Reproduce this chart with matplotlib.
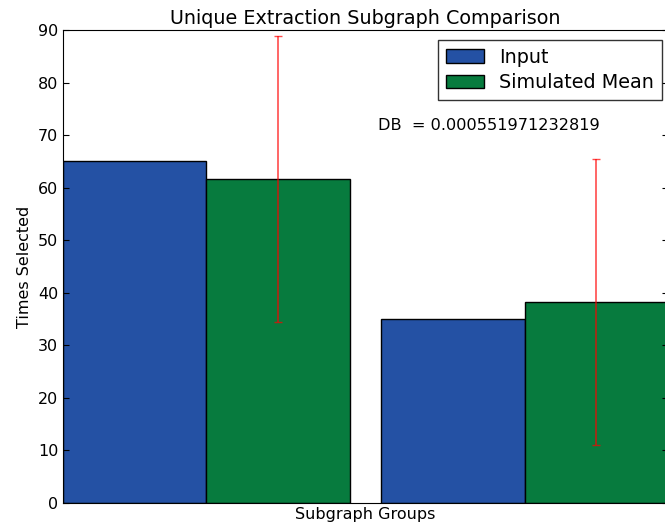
import numpy as np
import matplotlib
matplotlib.use("Agg")
import matplotlib.pyplot as plt

# subgraph selection counts
groups = ["Group 1", "Group 2"]
input_counts = [65, 35]
sim_mean = [61.7, 38.3]
sim_std = [27.2, 27.2]
db_value = "0.000551971232819"

width = 0.45
ind = np.arange(len(groups))

fig = plt.figure(figsize=(6.65, 5.28), dpi=100)
ax = fig.add_axes([63/665, 25/528, 605/665, 473/528])

b1 = ax.bar(ind, input_counts, width, align="edge", color="#2451a4",
            edgecolor="black", linewidth=1)
b2 = ax.bar(ind + width, sim_mean, width, align="edge", color="#077b3e",
            edgecolor="black", linewidth=1)
ax.errorbar(ind + width * 1.5, sim_mean, yerr=sim_std, fmt="none",
            ecolor="red", alpha=0.7, capsize=3, elinewidth=1.2)

ax.set_xlim(0, 1.9)
ax.set_ylim(0, 90)
ax.set_xticks([])
ax.set_yticks(np.arange(0, 91, 10))
ax.tick_params(axis="y", direction="in", right=True, length=4, labelsize=11.5)
ax.set_xlabel("Subgraph Groups", fontsize=11.5, labelpad=3)
ax.set_ylabel("Times Selected", fontsize=11.5)
ax.set_title("Unique Extraction Subgraph Comparison", fontsize=13.8, pad=4)

ax.text(0.99, 71.0, "DB  = " + db_value, fontsize=11.6)

leg = ax.legend((b1[0], b2[0]), ("Input", "Simulated Mean"), loc="upper right",
                bbox_to_anchor=(0.99, 0.979), borderaxespad=0,
                fontsize=13.8, fancybox=False, edgecolor="black",
                handlelength=2.0, labelspacing=0.35)
leg.get_frame().set_linewidth(1)

fig.savefig("out.png", dpi=100)
